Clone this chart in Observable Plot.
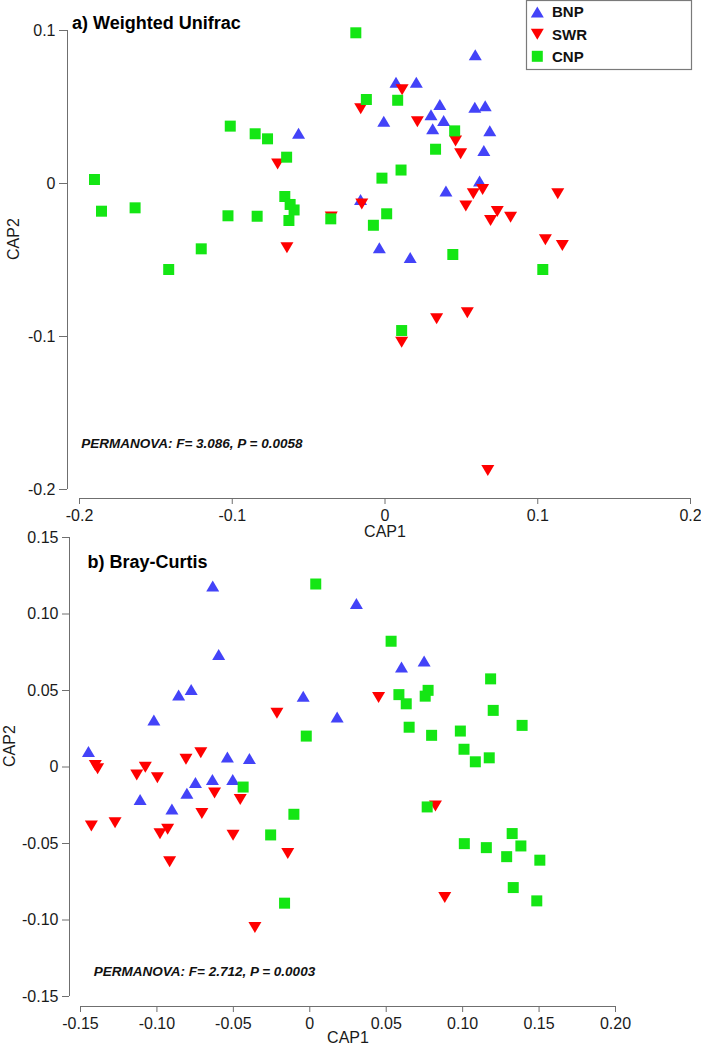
<!DOCTYPE html>
<html>
<head>
<meta charset="utf-8">
<script src="https://cdn.jsdelivr.net/npm/d3@7"></script>
<script src="https://cdn.jsdelivr.net/npm/@observablehq/plot@0.6"></script>
<style>
html, body { margin: 0; padding: 0; background: #fff; overflow: hidden; }
#wrap { position: relative; width: 701px; height: 1049px; font-family: "Liberation Sans", Arial, sans-serif; }
#wrap > svg { position: absolute; left: 0; }
</style>
</head>
<body>
<div id="wrap"></div>
<script>
// ---------- data ----------
const groups = ["BNP", "SWR", "CNP"];
const groupColors = ["#4343f8", "#ff0000", "#14e614"];

const axisXLabel = "CAP1";
const axisYLabel = "CAP2";

// panel a) Weighted Unifrac
const aTitle = "a) Weighted Unifrac";
const aStat = "PERMANOVA: F= 3.086, P = 0.0058";
const aXTicks = [-0.2, -0.1, 0, 0.1, 0.2];
const aYTicks = [-0.2, -0.1, 0, 0.1];
const aBNP = [
  [0.0591, 0.0841], [0.0072, 0.0662], [0.0205, 0.0662], [0.0359, 0.0516], [0.0301, 0.0449],
  [0.0384, 0.0412], [0.0312, 0.0358], [-0.0008, 0.0407], [0.0588, 0.0499], [0.0656, 0.0508],
  [0.0686, 0.0344], [0.0647, 0.0216], [0.0619, 0.0016], [0.0399, -0.0049], [-0.0160, -0.0105],
  [-0.0037, -0.0420], [0.0165, -0.0484], [-0.0566, 0.0329]
];
const aSWR = [
  [-0.0703, 0.0127], [-0.0642, -0.0420], [-0.0352, -0.0219], [0.0112, 0.0612], [-0.0159, 0.0488],
  [0.0212, 0.0404], [0.0462, 0.0278], [0.0495, 0.0194], [0.1131, -0.0067], [0.0639, -0.0039],
  [0.0578, -0.0067], [0.0529, -0.0147], [0.0735, -0.0183], [0.0822, -0.0220], [0.0691, -0.0242],
  [-0.0152, -0.0134], [0.1050, -0.0368], [0.1161, -0.0405], [0.0338, -0.0884], [0.0539, -0.0845],
  [0.0109, -0.1037], [0.0673, -0.1876]
];
const aCNP = [
  [-0.1902, 0.0026], [-0.1856, -0.0181], [-0.1636, -0.0159], [-0.1013, 0.0375], [-0.0850, 0.0325],
  [-0.0769, 0.0292], [-0.0644, 0.0172], [-0.0656, -0.0085], [-0.0621, -0.0137], [-0.0595, -0.0173],
  [-0.0629, -0.0242], [-0.1028, -0.0211], [-0.0837, -0.0214], [-0.0355, -0.0231], [-0.1203, -0.0427],
  [-0.1416, -0.0562], [-0.0191, 0.0985], [-0.0122, 0.0549], [0.0083, 0.0544], [0.0456, 0.0344],
  [0.0331, 0.0224], [0.0105, 0.0088], [-0.0020, 0.0035], [0.0011, -0.0198], [-0.0076, -0.0273],
  [0.0444, -0.0464], [0.1033, -0.0562], [0.0109, -0.0961]
];

// panel b) Bray-Curtis
const bTitle = "b) Bray-Curtis";
const bStat = "PERMANOVA: F= 2.712, P = 0.0003";
const bXTicks = [-0.15, -0.10, -0.05, 0, 0.05, 0.10, 0.15, 0.20];
const bYTicks = [-0.15, -0.10, -0.05, 0, 0.05, 0.10, 0.15];
const bBNP = [
  [-0.1448, 0.0102], [-0.1020, 0.0307], [-0.0858, 0.0470], [-0.0776, 0.0507], [-0.0635, 0.1183],
  [-0.0596, 0.0736], [-0.0539, 0.0065], [-0.0395, 0.0055], [-0.0043, 0.0463], [0.0179, 0.0326],
  [-0.0748, -0.0101], [-0.0637, -0.0082], [-0.0504, -0.0082], [-0.1110, -0.0213], [-0.0902, -0.0274],
  [-0.0804, -0.0172], [0.0305, 0.1069], [0.0600, 0.0654], [0.0748, 0.0692]
];
const bSWR = [
  [-0.1403, 0.0010], [-0.1388, -0.0012], [-0.1132, -0.0052], [-0.1076, -0.0002], [-0.0997, -0.0070],
  [-0.0810, 0.0050], [-0.0713, 0.0093], [-0.0215, 0.0351], [-0.1429, -0.0385], [-0.1274, -0.0364],
  [-0.0980, -0.0437], [-0.0930, -0.0407], [-0.0917, -0.0619], [-0.0706, -0.0304], [-0.0623, -0.0170],
  [-0.0455, -0.0213], [-0.0502, -0.0446], [-0.0144, -0.0566], [-0.0359, -0.1049], [0.0450, 0.0455],
  [0.0822, -0.0255], [0.0883, -0.0853]
];
const bCNP = [
  [0.0039, 0.1196], [-0.0023, 0.0202], [-0.0436, -0.0131], [-0.0104, -0.0309], [-0.0256, -0.0444],
  [-0.0165, -0.0890], [0.0532, 0.0822], [0.0583, 0.0473], [0.0631, 0.0413], [0.0774, 0.0501],
  [0.0755, 0.0463], [0.0650, 0.0260], [0.0797, 0.0207], [0.1183, 0.0576], [0.1200, 0.0370],
  [0.1389, 0.0272], [0.0985, 0.0235], [0.1009, 0.0116], [0.1083, 0.0034], [0.1174, 0.0060],
  [0.0768, -0.0261], [0.1011, -0.0501], [0.1155, -0.0527], [0.1324, -0.0435], [0.1381, -0.0516],
  [0.1288, -0.0586], [0.1505, -0.0609], [0.1331, -0.0788], [0.1485, -0.0875]
];

// ---------- symbols ----------
const triUp = { draw(ctx, size) { const r = Math.sqrt(size / Math.PI), w = r * 13 / 11;
  ctx.moveTo(0, -r); ctx.lineTo(w, r); ctx.lineTo(-w, r); ctx.closePath(); } };
const triDown = { draw(ctx, size) { const r = Math.sqrt(size / Math.PI), w = r * 13 / 11;
  ctx.moveTo(0, r); ctx.lineTo(w, -r); ctx.lineTo(-w, -r); ctx.closePath(); } };
const square = { draw(ctx, size) { const r = Math.sqrt(size / Math.PI);
  ctx.moveTo(-r, -r); ctx.lineTo(r, -r); ctx.lineTo(r, r); ctx.lineTo(-r, r); ctx.closePath(); } };
const groupSymbols = [triUp, triDown, square];

const FONT = '"Liberation Sans", Arial, sans-serif';
const axisStroke = "#6f6f6f";
const textColor = "#1a1a1a";
const R = 5.5;

function makePanel(o) {
  const rows = [];
  groups.forEach((g, gi) => o.series[gi].forEach(([x, y]) => rows.push({group: g, x, y})));
  const xd = d3.extent(o.xTicks), yd = d3.extent(o.yTicks);
  const svg = Plot.plot({
    width: 701, height: o.height,
    marginLeft: o.ml, marginRight: o.mr, marginTop: o.mt, marginBottom: o.mb,
    insetLeft: o.il, insetRight: 0, insetTop: 0, insetBottom: o.ib,
    x: {domain: xd},
    y: {domain: yd},
    color: {domain: groups, range: groupColors},
    symbol: {domain: groups, range: groupSymbols},
    style: {fontFamily: FONT, fontSize: "16px", background: "transparent", overflow: "visible", color: textColor},
    marks: [
      Plot.ruleX([xd[0]], {y1: () => yd[0], y2: () => yd[1], dx: -o.il, stroke: axisStroke}),
      Plot.ruleY([yd[0]], {x1: () => xd[0], x2: () => xd[1], dy: o.ib, stroke: axisStroke}),
      Plot.axisX({ticks: o.xTicks, tickFormat: o.fmt, tickSize: 6, tickPadding: o.xPad, fontSize: 16,
        stroke: axisStroke, fill: textColor, label: null}),
      Plot.axisY({ticks: o.yTicks, tickFormat: o.fmt, tickSize: o.yTick, tickPadding: 4, fontSize: 16,
        stroke: axisStroke, fill: textColor, label: null}),
      Plot.dot(rows, {x: "x", y: "y", symbol: "group", fill: "group", r: R}),
      Plot.text([o.title], {text: d => d, frameAnchor: "top-left", textAnchor: "start", dx: o.tdx, dy: o.tdy,
        fontWeight: "bold", fontSize: 18, fill: "#000"}),
      Plot.text([o.stat], {text: d => d, frameAnchor: "bottom-left", textAnchor: "start", dx: o.sdx, dy: o.sdy,
        fontWeight: "bold", fontStyle: "italic", fontSize: 13.5, fill: "#111"}),
      Plot.text([axisXLabel], {text: d => d, frameAnchor: "bottom", dx: o.il / 2, dy: o.xldy, fontSize: 16, fill: textColor}),
      Plot.text([axisYLabel], {text: d => d, frameAnchor: "left", rotate: -90, dx: o.yldx, dy: o.yldy, fontSize: 16, fill: textColor})
    ]
  });
  svg.style.top = o.top + "px";
  return svg;
}

const wrap = document.getElementById("wrap");

wrap.appendChild(makePanel({
  top: 0, height: 545, ml: 67, mr: 11, mt: 30, mb: 47, il: 12, ib: 9,
  xTicks: aXTicks, yTicks: aYTicks, fmt: d => d === 0 ? "0" : d.toFixed(1),
  xPad: 5.5, yTick: 8,
  series: [aBNP, aSWR, aCNP],
  title: aTitle, tdx: 4.5, tdy: -14.6,
  stat: aStat, sdx: 13.7, sdy: -50.8,
  xldy: 38.7, yldx: -53.5, yldy: -4.5
}));

wrap.appendChild(makePanel({
  top: 500, height: 549, ml: 69, mr: 86, mt: 37, mb: 43, il: 11, ib: 10,
  xTicks: bXTicks, yTicks: bYTicks, fmt: d => d === 0 ? "0" : d.toFixed(2),
  xPad: 5, yTick: 7,
  series: [bBNP, bSWR, bCNP],
  title: bTitle, tdx: 18, tdy: 17.5,
  stat: bStat, sdx: 24.3, sdy: -31,
  xldy: 36.8, yldx: -60, yldy: -5
}));

// ---------- legend (top-right of panel a) ----------
const lg = d3.create("svg").attr("width", 166).attr("height", 70)
  .style("left", "526px").style("top", "0px").style("overflow", "visible");
lg.append("rect").attr("x", 0.5).attr("y", 0.5).attr("width", 165).attr("height", 69)
  .attr("fill", "white").attr("stroke", "#7a7a7a").attr("stroke-width", 1.2);
const rowY = [12, 34.3, 56.3];
groups.forEach((g, i) => {
  lg.append("path")
    .attr("transform", `translate(11.3,${rowY[i]})`)
    .attr("d", d3.symbol(groupSymbols[i], Math.PI * R * R)())
    .attr("fill", groupColors[i]);
  lg.append("text").attr("x", 26).attr("y", rowY[i] + 5.4)
    .attr("font-family", FONT).attr("font-size", 15).attr("font-weight", "bold")
    .attr("fill", "#111").text(g);
});
wrap.appendChild(lg.node());
</script>
</body>
</html>
